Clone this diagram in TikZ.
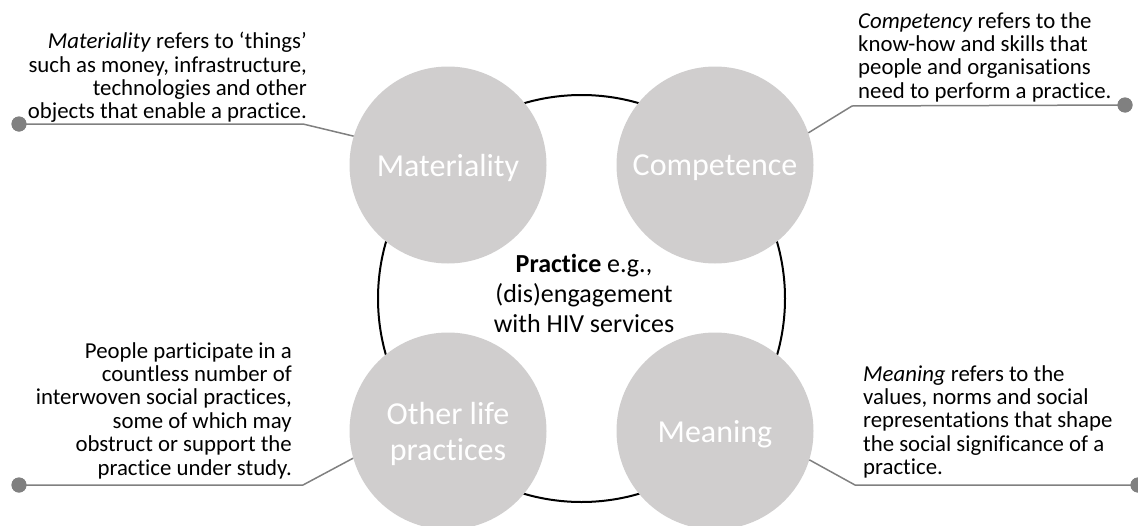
\documentclass[tikz,border=0pt]{standalone}
\usepackage{fontspec}
\setmainfont[Ligatures={NoCommon,NoContextual}]{Carlito}
\definecolor{circ}{HTML}{D0CECE}
\definecolor{conn}{HTML}{808080}
\begin{document}
\begin{tikzpicture}[x=1pt,y=-1pt,
  comp/.style={circle,fill=circ,minimum size=197pt,inner sep=0pt,text=white,align=center,text depth=0pt,font=\fontsize{32}{36}\selectfont},
  side/.style={inner sep=0pt,font=\fontsize{22.8}{23.4}\selectfont},
  link/.style={draw=conn,line width=1.5pt},
  dotnode/.style={circle,fill=conn,minimum size=15pt,inner sep=0pt}]
\useasboundingbox (0,0) rectangle (1138,525);
% central practice circle
\node[circle,draw=black,line width=2pt,minimum size=407pt,inner sep=0pt] (prac) at (581.5,298.5) {};
\node[align=center,inner sep=0pt,font=\fontsize{26}{30}\selectfont] (ptxt) at (584,293)
  {\textbf{Practice} e.g.,\\(dis)engagement\\with HIV services};
% elements
\node[comp] (mat) at (448,165) {Materiality};
\node[comp] (com) at (715,165) {Competence};
\node[comp] (oth) at (448,431) {Other life\\practices};
\node[comp] (mea) at (715,431) {Meaning};
% side texts
\node[side,anchor=north east,align=right] (tmat) at (307,32)
  {\textit{Materiality} refers to ‘things’\\such as money, infrastructure,\\technologies and other\\objects that enable a practice.};
\node[side,anchor=north west,align=left] (tcom) at (858,12)
  {\textit{Competency} refers to the\\know-how and skills that\\people and organisations\\need to perform a practice.};
\node[side,anchor=north east,align=right] (toth) at (292,342)
  {People participate in a\\countless number of\\interwoven social practices,\\some of which may\\obstruct or support the\\practice under study.};
\node[side,anchor=north west,align=left] (tmea) at (863,365)
  {\textit{Meaning} refers to the\\values, norms and social\\representations that shape\\the social significance of a\\practice.};
% connector points
\coordinate (emat) at (303,124);
\coordinate (ecom) at (852,106);
\coordinate (eoth) at (303,485);
\coordinate (emea) at (855,485);
\node[dotnode] (dmat) at (19,124) {};
\node[dotnode] (dcom) at (1125,105) {};
\node[dotnode] (doth) at (19,485) {};
\node[dotnode] (dmea) at (1138,485) {};
\draw[link] (mat.163.8) -- (emat) -- (dmat.center);
\draw[link] (com.19.7) -- (ecom) -- (dcom.center);
\draw[link] (oth.-164.7) -- (eoth) -- (doth.center);
\draw[link] (mea.-17.3) -- (emea) -- (dmea.center);
\node[dotnode] at (dmat) {};
\node[dotnode] at (dcom) {};
\node[dotnode] at (doth) {};
\node[dotnode] at (dmea) {};
\end{tikzpicture}
\end{document}
